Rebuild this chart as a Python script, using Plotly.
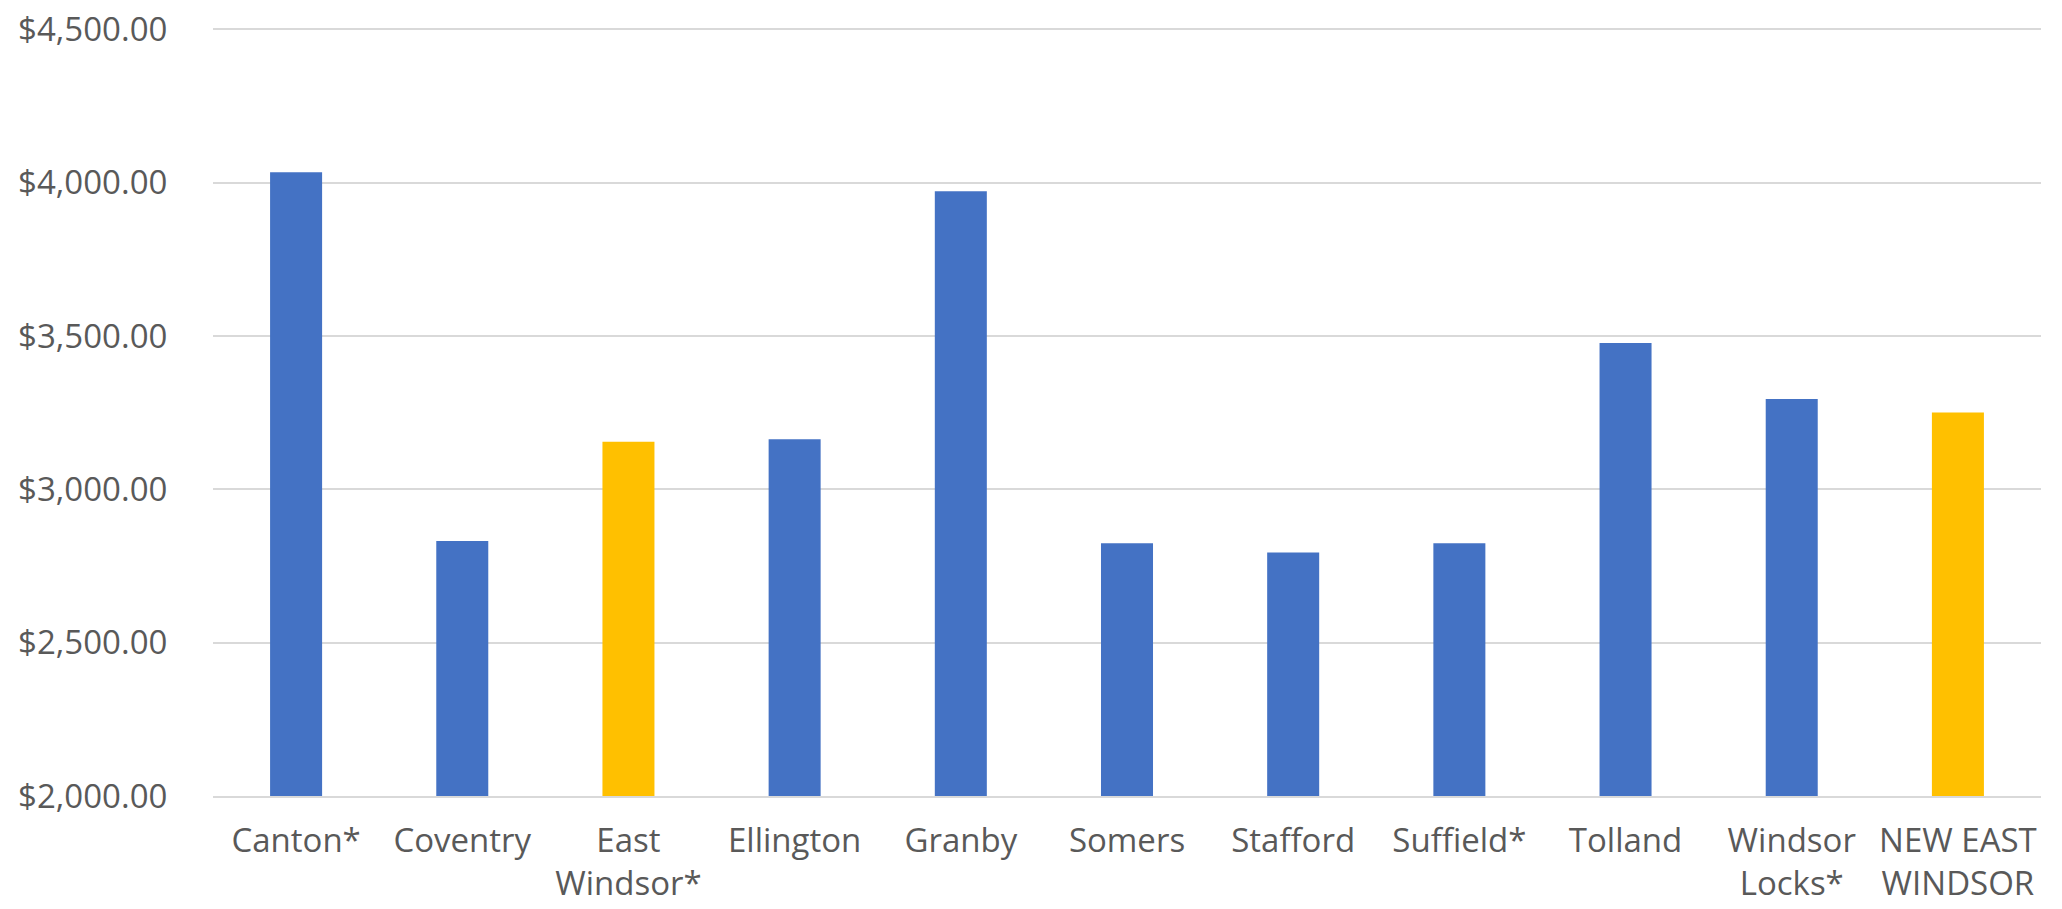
import plotly.graph_objects as go

towns = ["Canton*", "Coventry", "East<br>Windsor*", "Ellington", "Granby", "Somers",
         "Stafford", "Suffield*", "Tolland", "Windsor<br>Locks*", "NEW EAST<br>WINDSOR"]
values = [4034, 2831, 3155, 3163, 3972, 2824, 2794, 2824, 3477, 3294, 3250]
highlight = [False, False, True, False, False, False, False, False, False, False, True]
y_ticks = [2000, 2500, 3000, 3500, 4000, 4500]
y_tick_text = ["${:,.2f}".format(v) for v in y_ticks]

BLUE = "#4472C4"
GOLD = "#FFC000"
colors = [GOLD if h else BLUE for h in highlight]

fig = go.Figure(go.Bar(x=towns, y=values, marker=dict(color=colors, line=dict(width=0)),
                       width=0.313, hoverinfo="x+y"))

fig.update_layout(
    template="none",
    width=2062, height=909,
    margin=dict(l=213, r=21, t=28, b=113, pad=0),
    paper_bgcolor="white", plot_bgcolor="white",
    font=dict(family="Open Sans", size=33, color="#595959"),
    showlegend=False,
)
fig.update_xaxes(showgrid=False, showline=True, linecolor="#D9D9D9", linewidth=2,
                 automargin=False, ticks="outside", ticklen=14, tickcolor="rgba(0,0,0,0)",
                 tickfont=dict(size=33, color="#595959"), ticklabeloverflow="allow")
fig.update_yaxes(range=[2000, 4504], tickvals=y_ticks, ticktext=y_tick_text,
                 showgrid=True, gridcolor="#D9D9D9", gridwidth=2, zeroline=False,
                 showline=False, automargin=False,
                 ticks="outside", ticklen=38, tickcolor="rgba(0,0,0,0)",
                 tickfont=dict(size=33, color="#595959"), ticklabeloverflow="allow")

fig.write_html("out.html", config={"displayModeBar": False},
               post_script="document.body.style.margin='0';document.body.style.overflow='hidden';")
